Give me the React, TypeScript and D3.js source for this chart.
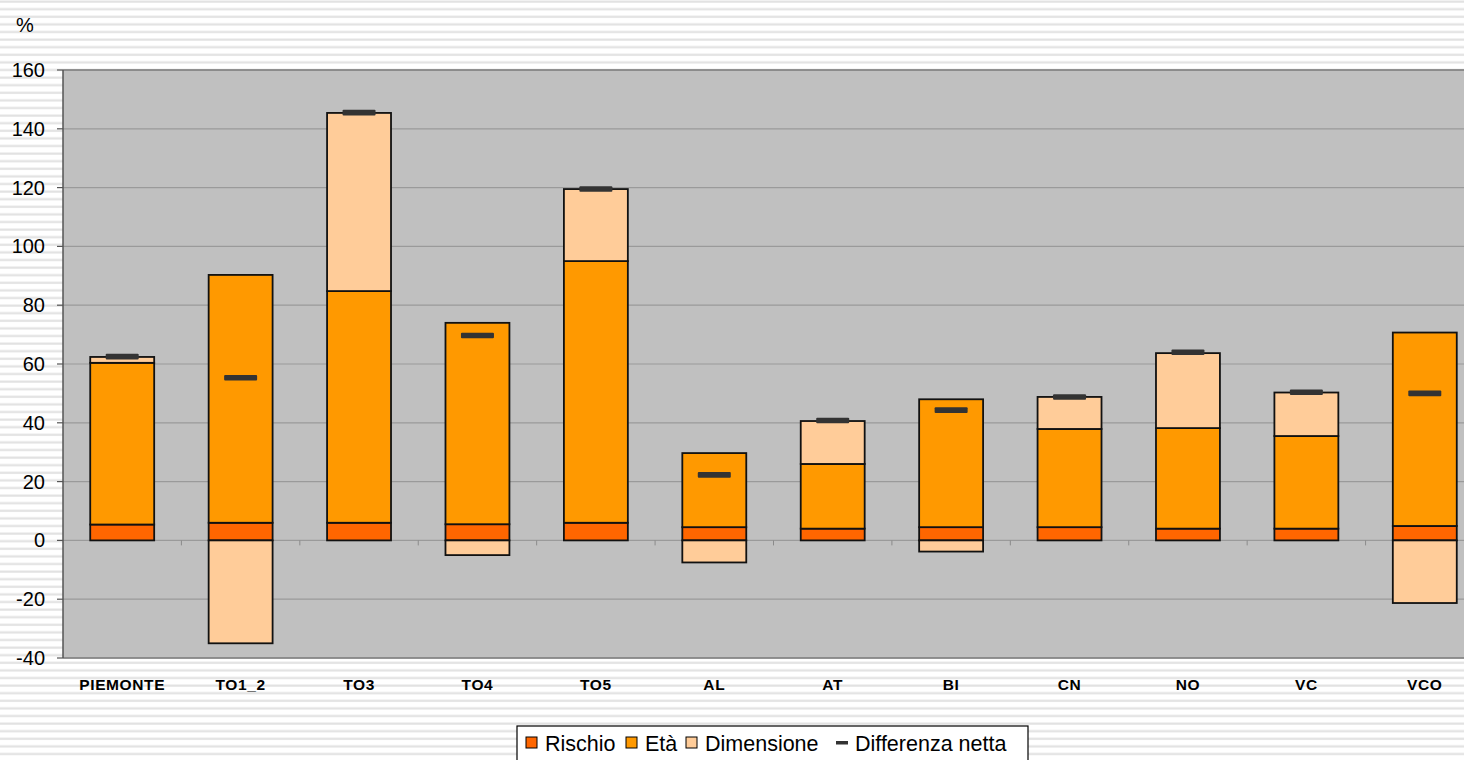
import { scaleBand, scaleLinear } from "d3";

const WIDTH = 1464;
const HEIGHT = 760;
const PLOT = { left: 63, right: 1484, top: 70, bottom: 658 };

const categories = ["PIEMONTE", "TO1_2", "TO3", "TO4", "TO5", "AL", "AT", "BI", "CN", "NO", "VC", "VCO"];
const rischio = [5.4, 6, 6, 5.5, 6, 4.5, 4, 4.5, 4.5, 4, 4, 4.9];
const eta = [55, 84.3, 78.8, 68.5, 89, 25.2, 22, 43.5, 33.4, 34.2, 31.5, 65.8];
const dimensione = [2, -35, 60.6, -5, 24.5, -7.5, 14.6, -3.8, 10.9, 25.5, 14.8, -21.3];
const differenzaNetta = [62.5, 55.3, 145.5, 69.7, 119.5, 22.3, 40.8, 44.3, 48.8, 64, 50.4, 50];
const yTicks = [-40, -20, 0, 20, 40, 60, 80, 100, 120, 140, 160];

const COLORS = { rischio: "#ff6600", eta: "#ff9900", dimensione: "#ffcc99", netta: "#333333" };
const FONT = "'Liberation Sans', Arial, sans-serif";

export default function App() {
  const x = scaleBand<string>()
    .domain(categories)
    .range([PLOT.left, PLOT.right])
    .paddingInner(0.46)
    .paddingOuter(0.23);
  const y = scaleLinear().domain([-40, 160]).range([PLOT.bottom, PLOT.top]);
  const step = x.step();
  const bw = x.bandwidth();

  const segments = categories.flatMap((c, i) => {
    const r1 = rischio[i];
    const e1 = r1 + eta[i];
    const d = dimensione[i];
    const segs = [
      { key: `${c}-r`, y0: 0, y1: r1, fill: COLORS.rischio },
      { key: `${c}-e`, y0: r1, y1: e1, fill: COLORS.eta },
    ];
    if (d >= 0) segs.push({ key: `${c}-d`, y0: e1, y1: e1 + d, fill: COLORS.dimensione });
    else segs.push({ key: `${c}-d`, y0: d, y1: 0, fill: COLORS.dimensione });
    return segs.map((s) => ({ ...s, cat: c }));
  });

  const legendItems = [
    { label: "Rischio", color: COLORS.rischio, type: "box", x: 526 },
    { label: "Età", color: COLORS.eta, type: "box", x: 626 },
    { label: "Dimensione", color: COLORS.dimensione, type: "box", x: 686 },
    { label: "Differenza netta", color: COLORS.netta, type: "line", x: 836 },
  ];

  return (
    <svg
      width={WIDTH}
      height={HEIGHT}
      viewBox={`0 0 ${WIDTH} ${HEIGHT}`}
      style={{ position: "absolute", left: 0, top: 0, fontFamily: FONT }}
    >
      <defs>
        <pattern id="stripes" x="0" y="0" width="8" height="7.6" patternUnits="userSpaceOnUse">
          <rect width="8" height="7.6" fill="#ffffff" />
          <rect y="0.5" width="8" height="2.2" fill="#e2e2e2" />
        </pattern>
      </defs>
      <rect width={WIDTH} height={HEIGHT} fill="url(#stripes)" />

      {/* plot area */}
      <rect x={PLOT.left} y={PLOT.top} width={PLOT.right - PLOT.left} height={PLOT.bottom - PLOT.top} fill="#c0c0c0" />
      {yTicks.map((t) => (
        <line key={t} x1={PLOT.left} x2={PLOT.right} y1={y(t)} y2={y(t)} stroke="#9a9a9a" strokeWidth={1.2} />
      ))}
      <line x1={PLOT.left} x2={PLOT.right} y1={PLOT.top} y2={PLOT.top} stroke="#808080" strokeWidth={1.5} />
      <line x1={PLOT.left} x2={PLOT.right} y1={PLOT.bottom} y2={PLOT.bottom} stroke="#808080" strokeWidth={1.5} />

      {/* category ticks on zero line */}
      {categories.slice(1).map((c) => (
        <line
          key={c}
          x1={(x(c) ?? 0) - (step - bw) / 2}
          x2={(x(c) ?? 0) - (step - bw) / 2}
          y1={y(0)}
          y2={y(0) + 5}
          stroke="#8a8a8a"
          strokeWidth={1}
        />
      ))}

      {/* y axis */}
      <line x1={PLOT.left} x2={PLOT.left} y1={PLOT.top} y2={PLOT.bottom} stroke="#555555" strokeWidth={1.5} />
      {yTicks.map((t) => (
        <g key={t}>
          <line x1={PLOT.left - 6} x2={PLOT.left} y1={y(t)} y2={y(t)} stroke="#555555" strokeWidth={1.2} />
          <text x={45} y={y(t) + 7} textAnchor="end" fontSize={20} fill="#000">
            {t}
          </text>
        </g>
      ))}
      <text x={16} y={32} fontSize={20} fill="#000">%</text>

      {/* bars */}
      {segments.map((s) => (
        <rect
          key={s.key}
          x={x(s.cat)}
          y={y(s.y1)}
          width={bw}
          height={y(s.y0) - y(s.y1)}
          fill={s.fill}
          stroke="#111111"
          strokeWidth={1.8}
        />
      ))}

      {/* differenza netta markers */}
      {categories.map((c, i) => (
        <rect
          key={c}
          x={(x(c) ?? 0) + bw / 2 - 16.5}
          y={y(differenzaNetta[i]) - 2.8}
          width={33}
          height={5.6}
          rx={1}
          fill={COLORS.netta}
        />
      ))}

      {/* x labels */}
      {categories.map((c) => (
        <text
          key={c}
          x={(x(c) ?? 0) + bw / 2}
          y={690}
          textAnchor="middle"
          fontSize={15.5}
          letterSpacing={0.6}
          fontWeight="bold"
          fill="#000"
        >
          {c}
        </text>
      ))}

      {/* legend */}
      <rect x={517} y={726} width={511} height={40} fill="#ffffff" stroke="#000" strokeWidth={1.2} />
      {legendItems.map((it) => (
        <g key={it.label}>
          {it.type === "box" ? (
            <rect x={it.x} y={737} width={11} height={11} fill={it.color} stroke="#000" strokeWidth={1} />
          ) : (
            <rect x={it.x} y={741} width={12} height={3.5} fill={it.color} />
          )}
          <text x={it.x + (it.type === "box" ? 19 : 19)} y={751} fontSize={21.5} fill="#000">
            {it.label}
          </text>
        </g>
      ))}
    </svg>
  );
}
